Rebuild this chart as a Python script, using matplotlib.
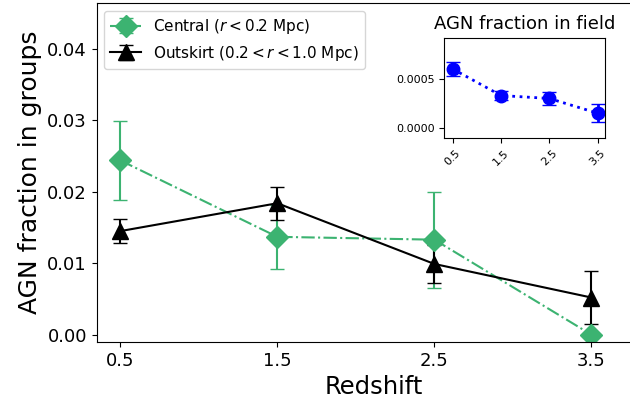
import matplotlib
matplotlib.use("Agg")
import matplotlib.pyplot as plt

redshift = [0.5, 1.5, 2.5, 3.5]

central_frac = [0.0244, 0.0137, 0.0133, 0.0]
central_err = [0.0055, 0.0045, 0.0067, 0.0]

outskirt_frac = [0.0145, 0.0184, 0.0099, 0.0052]
outskirt_err = [0.0017, 0.0023, 0.0027, 0.0037]

field_frac = [0.00060, 0.00033, 0.00030, 0.00015]
field_err = [0.00007, 0.00005, 0.00007, 0.00009]


def make_plot():
    fig = plt.figure(figsize=(6.3, 4.05), dpi=100)
    ax = fig.add_axes([0.1535, 0.156, 0.88, 0.836])

    ax.errorbar(redshift, central_frac, yerr=central_err, color="mediumseagreen",
                marker="D", markersize=11, linestyle="-.", linewidth=1.5,
                capsize=5, label=r"Central ($r < 0.2$ Mpc)")
    ax.errorbar(redshift, outskirt_frac, yerr=outskirt_err, color="black",
                marker="^", markersize=11, linestyle="-", linewidth=1.5,
                capsize=5, label=r"Outskirt ($0.2 < r < 1.0$ Mpc)")

    ax.set_xlim(0.35, 3.88)
    ax.set_ylim(-0.001, 0.0464)
    ax.set_xticks(redshift)
    ax.set_yticks([0.0, 0.01, 0.02, 0.03, 0.04])
    ax.tick_params(labelsize=13)
    ax.set_xlabel("Redshift", fontsize=17.5)
    ax.set_ylabel("AGN fraction in groups", fontsize=18)
    ax.legend(loc="upper left", fontsize=11)

    ins = fig.add_axes([0.705, 0.660, 0.255, 0.247])
    ins.errorbar(redshift, field_frac, yerr=field_err, color="blue",
                 marker="o", markersize=9, linestyle=":", linewidth=2,
                 capsize=5)
    ins.set_xlim(0.32, 3.65)
    ins.set_ylim(-0.0001, 0.00092)
    ins.set_xticks(redshift)
    ins.set_yticks([0.0, 0.0005])
    ins.tick_params(labelsize=8)
    ins.tick_params(axis="x", labelrotation=45)
    ins.set_title("AGN fraction in field", fontsize=13)

    fig.savefig("out.png", dpi=100)


if __name__ == "__main__":
    make_plot()
